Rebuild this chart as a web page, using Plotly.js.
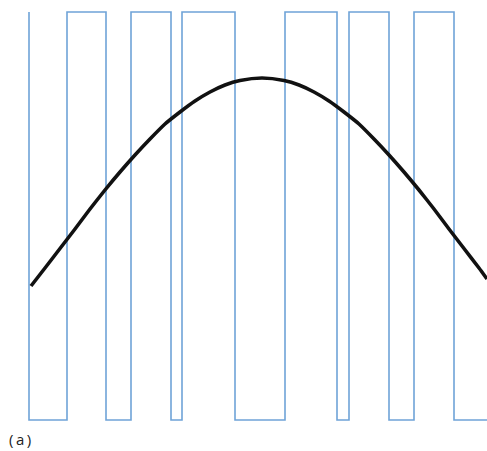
<!DOCTYPE html>
<html>
<head>
<meta charset="utf-8">
<script src="https://cdn.plot.ly/plotly-3.0.1.min.js"></script>
<style>
html,body{margin:0;padding:0;background:#fff;}
#chart{width:487px;height:451px;}
</style>
</head>
<body>
<div id="chart"></div>
<script>
// PWM switching instants (horizontal position) and levels
var pwmEdges = [29, 67, 106, 131, 171, 182, 235, 285, 337, 349, 389, 414, 454, 491];
var pwmStart = 1;           // starts high, first edge goes low
var pwmHigh = 439;          // level height of high state
var pwmLow = 31;            // level height of low state

// Modulating reference curve
var sineX = [31, 45, 60, 75, 90, 105, 120, 135, 150, 165, 180, 195, 210, 225, 240, 262, 284, 299, 314, 329, 344, 359, 374, 389, 404, 419, 434, 449, 464, 479, 487];
var sineY = [165, 183, 202.5, 222, 242, 261, 279, 296, 312, 327, 339, 350, 359, 366, 370.5, 373, 370.5, 366, 359, 350, 339, 327, 312, 296, 279, 261, 242, 222, 202.5, 183, 172];

// build step trace from edges
var px = [], py = [];
var level = pwmStart;
px.push(pwmEdges[0]); py.push(level ? pwmHigh : pwmLow);
for (var i = 0; i < pwmEdges.length; i++) {
  px.push(pwmEdges[i]); py.push(level ? pwmHigh : pwmLow);
  level = 1 - level;
  px.push(pwmEdges[i]); py.push(level ? pwmHigh : pwmLow);
}

var traces = [
  {x: px, y: py, mode: 'lines', line: {color: '#6fa3d8', width: 1.6}, hoverinfo: 'skip'},
  {x: sineX, y: sineY, mode: 'lines', line: {color: '#111111', width: 3.6, shape: 'spline', smoothing: 0.6}, hoverinfo: 'skip'}
];

var layout = {
  width: 487, height: 451,
  margin: {l: 0, r: 0, t: 0, b: 0},
  paper_bgcolor: '#ffffff', plot_bgcolor: '#ffffff',
  showlegend: false,
  xaxis: {range: [0, 487], visible: false, fixedrange: true},
  yaxis: {range: [0, 451], visible: false, fixedrange: true},
  annotations: [{
    text: '(\u2009a\u2009)', x: 7, y: 0.5, xref: 'x', yref: 'y', xanchor: 'left', yanchor: 'bottom',
    showarrow: false, font: {family: 'Open Sans, DejaVu Sans, sans-serif', size: 15, color: '#222'}
  }]
};

Plotly.newPlot('chart', traces, layout, {displayModeBar: false, staticPlot: true});
</script>
</body>
</html>
